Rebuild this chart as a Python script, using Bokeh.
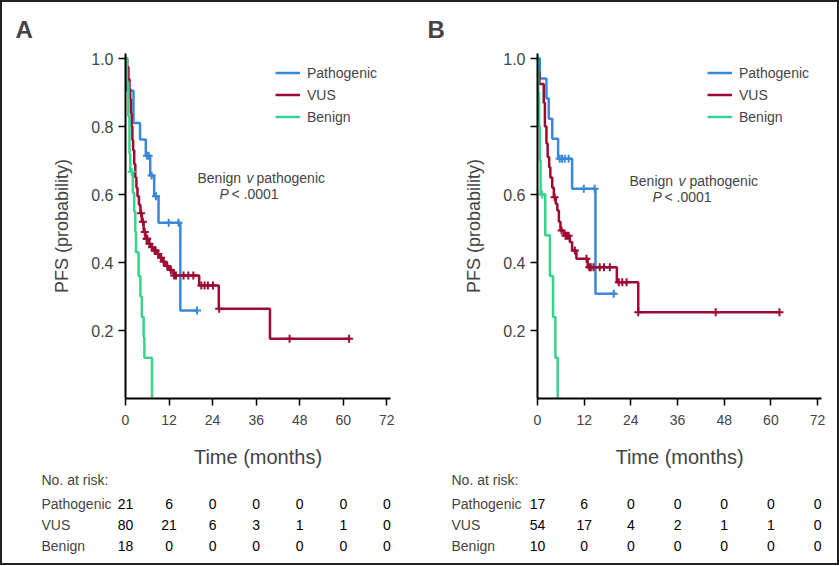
from bokeh.plotting import figure
from bokeh.models import (Range1d, FixedTicker, Label, LabelSet, Legend, LegendItem,
                          ColumnDataSource, PrintfTickFormatter)
from bokeh.core.properties import value
from bokeh.layouts import row
from bokeh.embed import file_html
from bokeh.resources import INLINE

# ---------------- data ----------------
group_names = ["Pathogenic", "VUS", "Benign"]
risk_times = [0, 12, 24, 36, 48, 60, 72]

# Panel A : step curves (time in months, survival after the step)
pathA_t = [0, 0.5, 2.2, 4.0, 5.6, 6.8, 7.9, 9.1, 15.1, 19.7]
pathA_s = [1.0, 0.905, 0.81, 0.762, 0.714, 0.656, 0.595, 0.517, 0.259, 0.259]
pathA_ct = [5.9, 6.4, 7.2, 8.4, 11.9, 14.6, 19.7]
pathA_cs = [0.714, 0.714, 0.656, 0.595, 0.517, 0.517, 0.259]

vusA_t = [0, 0.4, 0.8, 1.1, 1.3, 1.5, 1.7, 1.9, 2.1, 2.4, 2.7, 3.0, 3.3, 3.7, 4.1, 4.5,
          5.0, 5.5, 6.2, 7.0, 7.8, 8.6, 9.3, 10.2, 11.0, 12.0, 13.2, 20.3, 25.7, 39.8, 61.9]
vusA_s = [1.0, 0.975, 0.94, 0.91, 0.88, 0.84, 0.80, 0.76, 0.73, 0.69, 0.65, 0.62, 0.595,
          0.57, 0.545, 0.52, 0.49, 0.47, 0.455, 0.445, 0.435, 0.425, 0.414, 0.402, 0.39,
          0.378, 0.362, 0.332, 0.264, 0.176, 0.176]
vusA_ct = [4.3, 4.8, 5.3, 5.8, 6.0, 6.6, 7.3, 8.0, 8.3, 9.0, 9.8, 10.5, 11.5, 12.5, 13.4,
           13.9, 16.0, 17.3, 18.7, 20.9, 21.8, 22.7, 24.1, 25.8, 45.2, 61.6]
vusA_cs = [0.545, 0.52, 0.49, 0.47, 0.47, 0.455, 0.445, 0.435, 0.435, 0.425, 0.414, 0.402,
           0.39, 0.378, 0.362, 0.362, 0.362, 0.362, 0.362, 0.332, 0.332, 0.332, 0.332,
           0.264, 0.176, 0.176]

benA_t = [0, 0.4, 0.8, 1.1, 1.3, 2.0, 2.4, 2.7, 2.9, 3.6, 4.1, 4.5, 5.0, 5.2, 7.3]
benA_s = [1.0, 0.93, 0.83, 0.72, 0.667, 0.605, 0.55, 0.49, 0.43, 0.36, 0.30, 0.24, 0.18, 0.12, 0.0]
benA_ct = [1.7]
benA_cs = [0.667]

# Panel B
pathB_t = [0, 0.6, 2.3, 2.9, 3.8, 5.3, 8.9, 14.9, 20.1]
pathB_s = [1.0, 0.941, 0.882, 0.823, 0.764, 0.705, 0.617, 0.308, 0.308]
pathB_ct = [5.7, 6.3, 7.0, 8.0, 11.9, 14.7, 19.6]
pathB_cs = [0.705, 0.705, 0.705, 0.705, 0.617, 0.617, 0.308]

vusB_t = [0, 0.3, 0.5, 1.6, 1.9, 2.3, 2.6, 3.0, 3.3, 3.8, 4.2, 4.7, 5.1, 5.5, 5.9, 6.8,
          8.3, 8.9, 10.0, 12.9, 20.4, 25.9, 62.4]
vusB_s = [1.0, 0.96, 0.925, 0.87, 0.80, 0.75, 0.71, 0.68, 0.65, 0.62, 0.592, 0.573, 0.553,
          0.52, 0.494, 0.479, 0.46, 0.435, 0.411, 0.386, 0.342, 0.254, 0.254]
vusB_ct = [4.4, 6.2, 7.2, 7.6, 8.0, 9.6, 12.6, 13.3, 13.7, 14.4, 16.0, 17.1, 18.6, 20.9,
           21.8, 22.9, 25.9, 45.8, 62.2]
vusB_cs = [0.592, 0.494, 0.479, 0.479, 0.479, 0.435, 0.411, 0.386, 0.386, 0.386, 0.386,
           0.386, 0.386, 0.342, 0.342, 0.342, 0.254, 0.254, 0.254]

benB_t = [0, 0.2, 0.4, 0.6, 0.8, 2.0, 3.2, 4.0, 4.6, 5.2]
benB_s = [1.0, 0.9, 0.8, 0.7, 0.6, 0.48, 0.36, 0.24, 0.12, 0.0]
benB_ct = [1.2]
benB_cs = [0.6]

riskA = {"Pathogenic": [21, 6, 0, 0, 0, 0, 0],
         "VUS": [80, 21, 6, 3, 1, 1, 0],
         "Benign": [18, 0, 0, 0, 0, 0, 0]}
riskB = {"Pathogenic": [17, 6, 0, 0, 0, 0, 0],
         "VUS": [54, 17, 4, 2, 1, 1, 0],
         "Benign": [10, 0, 0, 0, 0, 0, 0]}

y_ticks = [0.2, 0.4, 0.6, 0.8, 1.0]
x_ticks = [0, 12, 24, 36, 48, 60, 72]

# ---------------- style ----------------
FONT = "Liberation Sans"
COLORS = {"Pathogenic": "#3b87d8", "VUS": "#9d0b32", "Benign": "#38d38c"}
PAGE_TOP, PAGE_BOTTOM = 2, 563
Y0_PAGE = 398.0       # page y of survival 0
PX_PER_UNIT = 340.0   # page px per survival unit


def make_panel(letter, page_left, page_right, x0_page, ppm, curves, risk, hide_08,
               legend_loc, ann):
    width = page_right - page_left
    height = PAGE_BOTTOM - PAGE_TOP

    def dx(px):
        return (px - x0_page) / ppm

    def dy(py):
        return (Y0_PAGE - py) / PX_PER_UNIT

    p = figure(width=width, height=height,
               x_range=Range1d(dx(page_left), dx(page_right)),
               y_range=Range1d(dy(PAGE_BOTTOM), dy(PAGE_TOP)),
               min_border=0, toolbar_location=None, output_backend="svg")
    p.outline_line_color = None
    p.grid.visible = False

    items = []
    for name, (t, s, ct, cs) in curves.items():
        r = p.step(t, s, mode="after", line_width=2.5, color=COLORS[name])
        p.scatter(ct, cs, marker="cross", size=8, line_width=2, color=COLORS[name])
        items.append(LegendItem(label=name, renderers=[r]))

    leg = Legend(items=items, location=legend_loc, border_line_color=None,
                 background_fill_alpha=0, padding=0, margin=0, spacing=1,
                 glyph_width=25, glyph_height=21, label_height=21, label_standoff=7,
                 label_text_font=FONT, label_text_font_size="14px")
    p.add_layout(leg)

    xa = p.xaxis[0]
    xa.fixed_location = 0
    xa.bounds = (0, 73)
    xa.ticker = FixedTicker(ticks=x_ticks)
    xa.axis_label = "Time (months)"
    xa.axis_label_text_font = FONT
    xa.axis_label_text_font_size = "20px"
    xa.axis_label_text_font_style = "normal"
    xa.axis_label_standoff = 18
    xa.major_label_text_font = FONT
    xa.major_label_text_font_size = "14px"
    xa.major_label_standoff = 9
    xa.major_tick_out = 7
    xa.major_tick_in = 0
    xa.minor_tick_out = 0
    xa.minor_tick_in = 0
    xa.axis_line_width = 2
    xa.major_tick_line_width = 1.5

    ya = p.yaxis[0]
    ya.fixed_location = 0
    ya.bounds = (0, 1.015)
    ya.ticker = FixedTicker(ticks=y_ticks)
    ya.formatter = PrintfTickFormatter(format="%.1f")
    if hide_08:
        ya.major_label_overrides = {0.8: ""}
    ya.axis_label = "PFS (probability)"
    ya.axis_label_text_font = FONT
    ya.axis_label_text_font_size = "18px"
    ya.axis_label_text_font_style = "normal"
    ya.axis_label_standoff = 16
    ya.major_label_text_font = FONT
    ya.major_label_text_font_size = "16px"
    ya.major_label_standoff = 5
    ya.major_tick_out = 7
    ya.major_tick_in = 0
    ya.minor_tick_out = 0
    ya.minor_tick_in = 0
    ya.axis_line_width = 2
    ya.major_tick_line_width = 1.5

    # panel letter
    p.add_layout(Label(x=dx(ann["letter_x"]), y=dy(29), text=letter, text_font=FONT,
                       text_font_size="24px", text_font_style="bold",
                       text_baseline="middle", text_align="left"))

    # annotation
    for txt, px, py, style in ann["pieces"]:
        p.add_layout(Label(x=dx(px), y=dy(py), text=txt, text_font=FONT,
                           text_font_size="14px", text_font_style=style,
                           text_baseline="middle", text_align="left"))

    # risk table
    p.add_layout(Label(x=dx(ann["risk_x"]), y=dy(479), text="No. at risk:", text_font=FONT,
                       text_font_size="14px", text_baseline="middle", text_align="left"))
    row_y = {"Pathogenic": 503, "VUS": 524, "Benign": 545}
    for name in group_names:
        p.add_layout(Label(x=dx(ann["risk_x"]), y=dy(row_y[name]), text=name, text_font=FONT,
                           text_font_size="14px", text_baseline="middle", text_align="left"))
        src = ColumnDataSource(dict(x=risk_times, y=[dy(row_y[name])] * len(risk_times),
                                    t=[str(v) for v in risk[name]]))
        p.add_layout(LabelSet(x="x", y="y", text="t", source=src,
                              text_font=value(FONT), text_font_size=value("14px"),
                              text_baseline="middle", text_align="center",
                              text_color="black"))
    return p


pA = make_panel(
    "A", 2, 420, 125, 3.63,
    {"Pathogenic": (pathA_t, pathA_s, pathA_ct, pathA_cs),
     "VUS": (vusA_t, vusA_s, vusA_ct, vusA_cs),
     "Benign": (benA_t, benA_s, benA_ct, benA_cs)},
    riskA, False, (273, 436),
    {"letter_x": 15, "risk_x": 41,
     "pieces": [("Benign", 197, 177, "normal"), ("v", 246, 177, "italic"),
                ("pathogenic", 256, 177, "normal"), ("P", 219, 193, "italic"),
                ("< .0001", 231, 193, "normal")]})

pB = make_panel(
    "B", 420, 837, 537, 3.89,
    {"Pathogenic": (pathB_t, pathB_s, pathB_ct, pathB_cs),
     "VUS": (vusB_t, vusB_s, vusB_ct, vusB_cs),
     "Benign": (benB_t, benB_s, benB_ct, benB_cs)},
    riskB, True, (287, 436),
    {"letter_x": 427, "risk_x": 451,
     "pieces": [("Benign", 629, 180, "normal"), ("v", 678, 180, "italic"),
                ("pathogenic", 689, 180, "normal"), ("P", 652, 196, "italic"),
                ("< .0001", 664, 196, "normal")]})

layout = row(pA, pB, styles={"border": "2px solid #222"})

open("out.html", "w").write(file_html(layout, INLINE))
